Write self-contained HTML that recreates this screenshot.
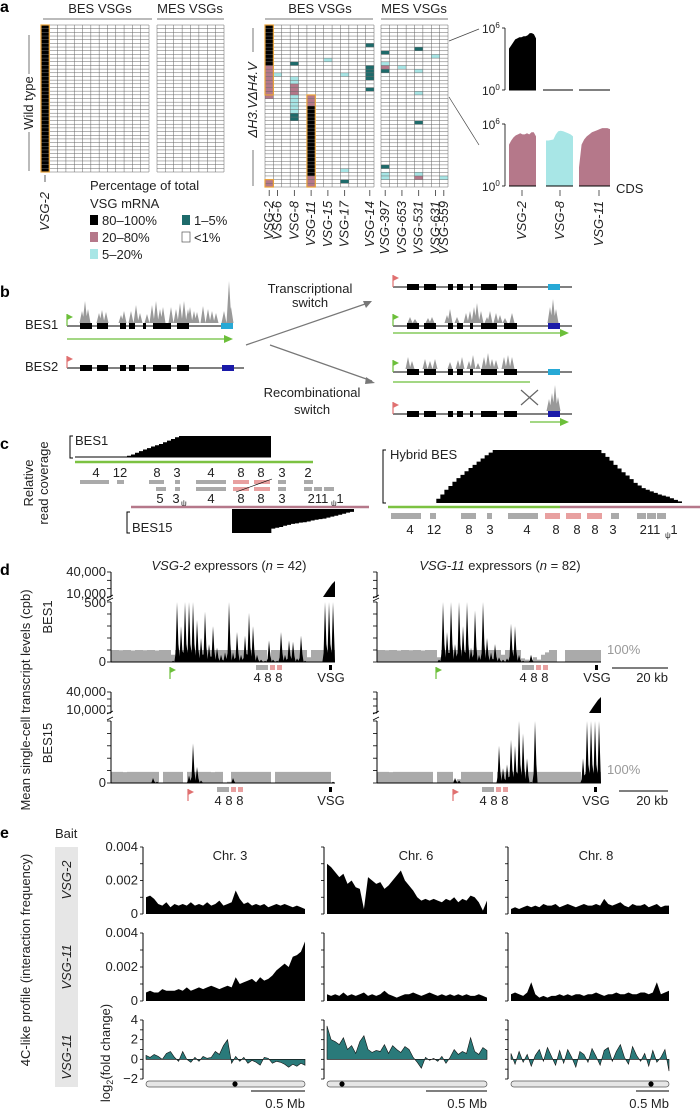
<!DOCTYPE html>
<html><head><meta charset="utf-8"><style>
html,body{margin:0;padding:0;background:#fff}
svg{display:block;font-family:"Liberation Sans",Arial,sans-serif}
</style></head><body>
<svg id="fig" width="700" height="1112" viewBox="0 0 700 1112" xmlns="http://www.w3.org/2000/svg"></svg>
<script>
// ---------- DATA ----------
const wtRows = 40, wtBesCols = 13, wtMesCols = 8;
const mutRows = 44, mutBesCols = 13, mutMesCols = 8;
const mutBesCells = [
 [0,0,'k'],[1,0,'k'],[2,0,'k'],[3,0,'k'],[4,0,'k'],[5,0,'k'],[6,0,'k'],[7,0,'k'],[8,0,'k'],[9,0,'k'],[10,0,'k'],
 [11,0,'p'],[12,0,'p'],[13,0,'p'],[14,0,'p'],[15,0,'p'],[16,0,'p'],[17,0,'p'],[18,0,'p'],[19,0,'p'],[42,0,'p'],[43,0,'p'],
 [13,1,'c'],
 [10,3,'t'],[14,3,'c'],[15,3,'c'],[16,3,'p'],[17,3,'p'],[18,3,'p'],[19,3,'c'],[20,3,'c'],[21,3,'c'],[22,3,'c'],[23,3,'c'],[24,3,'t'],[25,3,'t'],
 [19,5,'p'],[20,5,'p'],[21,5,'p'],[22,5,'k'],[23,5,'k'],[24,5,'k'],[25,5,'k'],[26,5,'k'],[27,5,'k'],[28,5,'k'],[29,5,'k'],[30,5,'k'],[31,5,'k'],[32,5,'k'],[33,5,'k'],[34,5,'k'],[35,5,'k'],[36,5,'k'],[37,5,'k'],[38,5,'k'],[39,5,'k'],[40,5,'k'],[41,5,'p'],[42,5,'p'],[43,5,'p'],
 [9,7,'c'],[13,9,'c'],[39,9,'c'],[42,9,'t'],
 [5,12,'t'],[11,12,'t'],[12,12,'t'],[13,12,'t'],[14,12,'t'],[17,12,'t']
];
const mutMesCells = [
 [7,0,'t'],[10,0,'c'],[11,0,'p'],[12,0,'t'],[38,0,'t'],[40,0,'c'],[41,0,'c'],
 [11,2,'c'],
 [6,4,'t'],[12,4,'c'],[18,4,'c'],[26,4,'t'],[40,4,'c'],[41,4,'p'],
 [8,6,'c'],[41,7,'c']
];
const besLabels = ['VSG-2','VSG-6','VSG-8','VSG-11','VSG-15','VSG-17','VSG-14'];
const besLabelCols = [0,1,3,5,7,9,12];
const mesLabels = ['VSG-397','VSG-653','VSG-531','VSG-631','VSG-559'];
const mesLabelCols = [0,2,4,6,7];
const covWtVsg2 = [4.0,4.3,4.6,4.9,5.0,5.1,5.1,5.2,5.2,5.3,5.5,5.5,5.4,5.0];
const covMutVsg2 = [4.0,4.4,4.7,4.9,5.0,5.1,5.0,5.0,5.1,5.0,5.2,5.2,4.8];
const covMutVsg8 = [4.4,4.4,4.45,4.5,5.0,5.3,5.35,5.3,5.2,5.1,5.0,4.8];
const covMutVsg11 = [1.8,4.0,4.5,4.8,5.0,5.2,5.3,5.4,5.5,5.6,5.6,5.6,5.5];
const bes1Cov = [0,0,0,0,0,0,0,0,0,0,0,0,0,0.06,0.12,0.2,0.28,0.36,0.42,0.5,0.56,0.62,0.7,0.78,0.86,0.94,1,1,1,1,1,1,1,1,1,1,1,1,1,1,1,1,1,1,1,1,1,1,1];
const bes15Cov = [1,1,1,1,1,1,1,1,1,1,0.82,0.78,0.75,0.7,0.66,0.62,0.6,0.57,0.55,0.52,0.48,0.45,0.42,0.4,0.36,0.32,0.28,0.24,0.2,0.15,0.12];
const hybridCov = [0,0,0,0,0,0,0,0,0,0,0,0,0.08,0.16,0.25,0.32,0.4,0.47,0.53,0.6,0.66,0.72,0.78,0.84,0.9,0.95,1,1,1,1,1,1,1,1,1,1,1,1,1,1,1,1,1,1,1,1,1,1,1,1,1,1,1,0.94,0.87,0.8,0.72,0.65,0.58,0.52,0.45,0.38,0.33,0.28,0.25,0.22,0.19,0.16,0.14,0.12,0.09,0.06,0.03,0];
const d1 = [0,0,0,0,0,0,0,0,0,0,0,0,0,0,0,10,500,300,500,500,500,350,200,420,150,300,120,60,80,500,80,250,60,220,410,300,60,20,10,180,20,10,250,60,180,170,30,220,10,0,0,0,0,500,500,500];
const d2 = [0,0,0,0,0,0,0,0,0,0,0,0,0,0,0,20,500,250,500,150,500,300,500,120,430,60,500,200,80,150,40,20,30,320,300,60,10,0,60,0,0,0,0,0,0,0,0,0,0,0,0,0,0,0,0,0];
const d3 = [0,0,0,0,0,0,0,0,0,0,40,10,0,0,0,0,0,0,0,60,320,130,20,0,0,0,0,0,0,0,40,0,0,0,0,0,0,0,0,0,0,0,0,0,0,0,0,0,0,0,0,0,0,0,0,10];
const d4 = [0,0,0,0,0,0,0,0,0,0,0,0,0,0,0,0,0,0,0,40,20,0,0,0,0,0,0,0,0,0,300,120,150,350,300,500,400,200,10,500,0,0,0,0,0,0,0,0,0,0,0,200,500,500,500,500];
const g1 = [100,100,98,100,100,96,100,100,98,100,100,96,100,100,100,60,100,100,100,100,100,100,100,100,100,100,100,100,100,100,100,100,100,100,100,100,100,100,100,20,100,100,100,100,100,100,100,100,100,40,100,100,100,100,100,100];
const g2 = [100,100,98,100,100,96,100,100,98,100,100,96,100,100,100,40,100,100,100,100,100,100,100,100,100,100,100,100,100,100,100,60,100,100,100,100,30,20,10,40,20,60,80,100,100,0,0,100,100,100,100,100,100,100,100,100];
const g3 = [90,90,90,88,90,90,90,90,90,90,90,90,0,90,90,90,90,90,0,90,90,90,90,90,90,88,90,90,0,10,90,90,90,90,90,90,90,90,90,90,0,90,90,90,90,90,90,90,90,90,90,90,90,90,90,0];
const g4 = [90,90,90,88,90,90,90,90,90,90,90,90,90,90,0,90,90,90,90,20,30,90,90,90,90,90,90,90,90,0,90,90,90,90,90,90,90,90,90,90,90,90,90,90,90,90,90,90,90,90,90,0,90,90,90,90];
const eFreqVsg2Chr3 = [10,11,9,6,5,7,4,6,5,6,5,7,5,6,5,7,5,6,8,5,6,7,14,9,6,7,5,6,5,6,4,5,6,5,6,5,4,5,4,3];
const eFreqVsg2Chr6 = [30,28,25,22,24,18,20,16,15,3,22,20,18,19,15,17,20,23,26,20,17,14,10,8,9,8,9,8,7,9,8,10,7,9,8,11,10,7,2,8];
const eFreqVsg2Chr8 = [3,4,3,4,5,4,5,4,6,5,5,6,4,5,6,5,4,5,6,5,5,6,5,9,6,5,6,7,5,4,6,5,5,6,4,5,6,4,5,5];
const eFreqVsg11Chr3 = [5,6,5,5,7,6,6,6,7,6,8,6,7,8,7,8,9,8,7,8,9,8,14,10,11,12,13,11,14,12,13,15,18,20,22,20,26,27,29,35];
const eFreqVsg11Chr6 = [4,3,4,3,5,3,4,3,4,5,3,4,3,4,6,4,3,2,3,4,4,5,4,3,4,5,4,3,4,3,4,3,4,3,4,3,3,4,3,2];
const eFreqVsg11Chr8 = [4,5,4,3,5,11,4,2,3,2,3,3,4,3,4,3,4,4,3,4,4,5,4,3,4,4,5,4,4,5,4,4,5,5,4,5,11,4,5,6];
const eFcChr3 = [0.4,0.2,0.5,0.3,0,0.6,0.8,0.2,-0.2,0.8,0,-0.3,0.2,-0.2,0.3,0.1,0.2,0.8,0.5,1.4,2.0,-0.4,0.3,-0.2,0.2,-0.4,-0.1,-0.3,-0.6,0.2,0.1,-0.4,-0.2,-0.3,-0.5,-0.8,-0.5,-0.7,-0.4,-0.6];
const eFcChr6 = [3.4,2.0,1.8,1.5,2.2,1.0,1.4,0.6,1.8,2.4,1.0,0.7,0.9,0.8,1.5,0.6,1.4,1.0,0.7,1.3,1.0,0.2,-0.3,-0.9,0.2,-0.1,0.1,-0.2,0.3,-0.4,0.2,1.0,0.5,0.8,0.6,2.2,0.8,0.5,1.2,0.9];
const eFcChr8 = [0.6,-0.5,0.8,-0.3,0.5,-0.7,0.4,1.0,-0.2,1.2,0.3,-0.6,0.9,-0.4,1.0,0.2,-0.8,0.8,0.5,-0.3,1.1,0.3,-0.6,0.9,1.2,-0.2,0.8,1.5,0.2,-0.5,1.3,0.4,-0.2,0.6,-0.7,0.9,-0.3,0.2,1.0,-1.2];
const eTicksFreq = ['0.004','0.002','0'];
const eTicksFc = ['4','2','0','−2'];

// ---------- HELPERS ----------
const NS='http://www.w3.org/2000/svg';
const svg=document.getElementById('fig');
function el(tag,attrs,parent,text){const e=document.createElementNS(NS,tag);for(const k in attrs)e.setAttribute(k,attrs[k]);if(text!==undefined)e.textContent=text;(parent||svg).appendChild(e);return e;}
function grp(name){const g=el('g',{});return g;}
function txt(p,x,y,s,size,opt){opt=opt||{};const a={x:x,y:y,'font-size':size||11,fill:opt.fill||'#222'};if(opt.anchor)a['text-anchor']=opt.anchor;if(opt.weight)a['font-weight']=opt.weight;if(opt.style)a['font-style']=opt.style;if(opt.rot!==undefined)a.transform='rotate('+opt.rot+' '+x+' '+y+')';return el('text',a,p,s);}
function line(p,x1,y1,x2,y2,c,w){return el('line',{x1:x1,y1:y1,x2:x2,y2:y2,stroke:c||'#000','stroke-width':w||1},p);}
function rect(p,x,y,w,h,f,extra){const a={x:x,y:y,width:w,height:h,fill:f};if(extra)for(const k in extra)a[k]=extra[k];return el('rect',a,p);}
function scale(d0,d1,r0,r1){return v=>r0+(v-d0)/(d1-d0)*(r1-r0);}
function area(p,vals,xs,ys,base,fill,stroke){let d='M'+xs(0)+','+ys(base);vals.forEach((v,i)=>{d+=' L'+xs(i).toFixed(2)+','+ys(v).toFixed(2);});d+=' L'+xs(vals.length-1)+','+ys(base)+' Z';const a={d:d,fill:fill};if(stroke){a.stroke=stroke;a['stroke-width']=0.6;}return el('path',a,p);}
function spikeArea(p,vals,xs,ys,fill){let d='M'+xs(0)+','+ys(0);vals.forEach((v,i)=>{d+=' L'+xs(i+0.15).toFixed(2)+','+ys(v*0.15).toFixed(2)+' L'+xs(i+0.5).toFixed(2)+','+ys(v).toFixed(2)+' L'+xs(i+0.85).toFixed(2)+','+ys(v*0.3).toFixed(2);});d+=' L'+xs(vals.length)+','+ys(0)+' Z';return el('path',{d:d,fill:fill},p);}
function stepArea(p,vals,xs,ys,base,fill){let d='M'+xs(0)+','+ys(base);vals.forEach((v,i)=>{d+=' L'+xs(i).toFixed(2)+','+ys(v).toFixed(2)+' L'+xs(i+1).toFixed(2)+','+ys(v).toFixed(2);});d+=' L'+xs(vals.length)+','+ys(base)+' Z';return el('path',{d:d,fill:fill},p);}
function flag(p,x,y,c){line(p,x,y,x,y-12,c,1.2);el('path',{d:'M'+x+','+(y-12)+' L'+(x+6)+','+(y-9)+' L'+x+','+(y-6)+' Z',fill:c},p);}
const lvl={k:'#000',p:'#b5788a',c:'#a8e6e6',t:'#1d6b6b'};

// ---------- PANEL A ----------
const gA=grp('panel-a');
txt(gA,0,12,'a',16,{weight:'bold',fill:'#000'});
function grid(p,x0,y0,cols,rows,cw,rh,cells,name){
  const g=el('g',{},p);
  cells.forEach(c=>{const r=rect(g,x0+c[1]*cw,y0+c[0]*rh,cw,rh,lvl[c[2]]);});
  for(let i=0;i<=cols;i++)line(g,x0+i*cw,y0,x0+i*cw,y0+rows*rh,'#666',0.5);
  for(let j=0;j<=rows;j++)line(g,x0,y0+j*rh,x0+cols*cw,y0+j*rh,'#666',0.5);
  return g;
}
const wtCells=[];for(let r=0;r<wtRows;r++)wtCells.push([r,0,'k']);
const wcw=108/wtBesCols, wrh=147/wtRows;
grid(gA,41,25,wtBesCols,wtRows,wcw,wrh,wtCells,'wt-bes-grid');
rect(gA,41,25,wcw,147,'none',{stroke:'#e8a23a','stroke-width':1.2});
grid(gA,157,25,wtMesCols,wtRows,67/wtMesCols,wrh,[],'wt-mes-grid');
txt(gA,100,13,'BES VSGs',13,{anchor:'middle'});txt(gA,190,13,'MES VSGs',13,{anchor:'middle'});
line(gA,43,19,152,19,'#777',1);line(gA,157,19,224,19,'#777',1);
txt(gA,33,103,'Wild type',13,{anchor:'middle',rot:-90});
line(gA,29,35,29,74,'#555',0.8);line(gA,29,132,29,171,'#555',0.8);
line(gA,45,175,45,182,'#333',0.8);
txt(gA,49,231,'VSG-2',13,{rot:-90,style:'italic'});
const mcw=109/mutBesCols, mrh=162/mutRows;
grid(gA,265,25,mutBesCols,mutRows,mcw,mrh,mutBesCells,'mutant-bes-grid');
grid(gA,381,25,mutMesCols,mutRows,67/mutMesCols,mrh,mutMesCells,'mutant-mes-grid');
rect(gA,265,25,mcw,19*mrh,'none',{stroke:'#e8a23a','stroke-width':1.2});
rect(gA,265,25+42*mrh,mcw,2*mrh,'none',{stroke:'#e8a23a','stroke-width':1.2});
rect(gA,265+5*mcw,25+19*mrh,mcw,25*mrh,'none',{stroke:'#e8a23a','stroke-width':1.2});
txt(gA,320,13,'BES VSGs',13,{anchor:'middle'});txt(gA,414,13,'MES VSGs',13,{anchor:'middle'});
line(gA,265,19,373,19,'#777',1);line(gA,381,19,448,19,'#777',1);
txt(gA,257,100,'ΔH3.VΔH4.V',13,{anchor:'middle',rot:-90,style:'italic'});
line(gA,253,28,253,52,'#555',0.8);line(gA,253,150,253,186,'#555',0.8);
besLabels.forEach((s,i)=>{const x=265+(besLabelCols[i]+0.5)*mcw;line(gA,x,190,x,196,'#333',0.8);txt(gA,x+4,201,s,13,{rot:-90,anchor:'end',style:'italic'});});
mesLabels.forEach((s,i)=>{const x=381+(mesLabelCols[i]+0.5)*67/mutMesCols;line(gA,x,190,x,196,'#333',0.8);txt(gA,x+4,201,s,13,{rot:-90,anchor:'end',style:'italic'});});
const gL=grp('legend');
txt(gL,90,190,'Percentage of total',13);txt(gL,90,208,'VSG mRNA',13);
[['k','80–100%',90,225],['p','20–80%',90,242],['c','5–20%',90,259],['t','1–5%',182,225],['w','<1%',182,242]].forEach(e=>{
  const g=el('g',{},gL);
  rect(g,e[2],e[3]-10,8,10,e[0]==='w'?'#fff':lvl[e[0]],{stroke:e[0]==='w'?'#555':'none','stroke-width':0.7});txt(g,e[2]+12,e[3],e[1],13);});
const gR=grp('coverage-plots');
function covPanel(yTop,yBot,series){
  const ys=scale(0,6,yBot,yTop);
  line(gR,505,yTop,505,yBot,'#000',0.8);line(gR,502,yTop,505,yTop,'#000',0.8);line(gR,502,yBot,505,yBot,'#000',0.8);
  const t1=txt(gR,482,yTop+5,'10',12);el('tspan',{dy:-5,'font-size':8},t1,'6');
  const t2=txt(gR,482,yBot+5,'10',12);el('tspan',{dy:-5,'font-size':8},t2,'0');
  series.forEach(s=>{const xs=scale(0,s[0].length-1,s[1],s[2]);if(s[0].length){const a=area(gR,s[0],xs,ys,0,s[3]);}line(gR,s[1],yBot,s[2],yBot,'#000',1);});
}
covPanel(28,90,[[covWtVsg2,509,536,'#000'],[[],543,573,'#000'],[[],579,610,'#000']]);
covPanel(124,186,[[covMutVsg2,509,536,'#b5788a'],[covMutVsg8,546,573,'#a8e6e6'],[covMutVsg11,579,610,'#b5788a']]);
txt(gR,616,193,'CDS',13);
[['VSG-2',522],['VSG-8',560],['VSG-11',599]].forEach(v=>{line(gR,v[1],190,v[1],196,'#333',0.8);txt(gR,v[1]+4,201,v[0],13,{rot:-90,anchor:'end',style:'italic'});});
line(gR,449,41,479,29,'#444',0.7);line(gR,449,97,479,145,'#444',0.7);

// ---------- PANEL B ----------
const gB=grp('panel-b');
txt(gB,0,297,'b',16,{weight:'bold',fill:'#000'});
const exonsL=[[80,92],[97,108],[120,126],[129,135],[143,146],[153,171],[177,189]];
const exonsR=[[407,419],[424,436],[448,453],[457,463],[470,473],[481,497],[504,517]];
function track(x0,x1,y,exons,vsgX,vsgC,flagC){line(gB,x0,y,x1,y,'#000',1);exons.forEach(e=>rect(gB,e[0],y-3,e[1]-e[0],6,'#000'));rect(gB,vsgX,y-3,12,6,vsgC);flag(gB,x0,y,flagC);}
function peaks(xs,y){let d='';xs.forEach(p=>{d+='M'+(p[0]-2.5)+','+y+' L'+p[0]+','+(y-p[1])+' L'+(p[0]+2.5)+','+y+' Z ';});el('path',{d:d,fill:'#999'},gB);}
track(67,233,326,exonsL,221,'#27a9d6','#6cbf3a');
peaks([[82,12],[85,22],[88,14],[99,10],[102,13],[106,11],[121,8],[124,12],[131,12],[136,18],[140,10],[147,9],[152,18],[156,22],[160,14],[163,16],[171,16],[176,14],[180,20],[184,22],[188,14],[190,16],[194,12],[197,11],[203,17],[208,14],[212,12],[216,10],[224,12],[229,42],[231,16]],323);
txt(gB,25,329,'BES1',13);
el('path',{d:'M67,339 L226,339',stroke:'#6cbf3a','stroke-width':1.3},gB);el('path',{d:'M224,335 L233,339 L224,343 Z',fill:'#6cbf3a'},gB);
track(67,244,368,exonsL,222,'#1a1aa8','#e07070');
txt(gB,25,371,'BES2',13);
el('path',{d:'M246,345 L368,303',stroke:'#777','stroke-width':1.2,fill:'none'},gB);el('path',{d:'M372,301 L363,301 L366,308 Z',fill:'#777'},gB);
el('path',{d:'M270,345 L372,381',stroke:'#777','stroke-width':1.2,fill:'none'},gB);el('path',{d:'M375,383 L366,377 L365,384 Z',fill:'#777'},gB);
txt(gB,310,293,'Transcriptional',13,{anchor:'middle'});txt(gB,310,307,'switch',13,{anchor:'middle'});
txt(gB,312,397,'Recombinational',13,{anchor:'middle'});txt(gB,312,414,'switch',13,{anchor:'middle'});
track(393,572,287,exonsR,548,'#27a9d6','#e07070');
track(393,572,326,exonsR,548,'#1a1aa8','#6cbf3a');
peaks([[410,6],[415,4],[428,5],[432,6],[447,8],[450,14],[457,6],[466,10],[470,12],[474,16],[477,20],[481,12],[487,6],[490,12],[496,10],[500,8],[505,5],[512,10],[550,16],[553,24],[556,14]],323);
el('path',{d:'M393,333 L562,333',stroke:'#6cbf3a','stroke-width':1.3},gB);el('path',{d:'M560,329 L569,333 L560,337 Z',fill:'#6cbf3a'},gB);
track(393,572,372,exonsR,548,'#27a9d6','#6cbf3a');
peaks([[408,12],[412,8],[425,10],[430,8],[435,10],[450,7],[458,9],[462,12],[469,8],[473,14],[478,6],[484,12],[488,16],[492,10],[496,9],[504,12],[508,14],[512,12]],369);
line(gB,393,382,530,382,'#6cbf3a',1.3);
track(393,572,414,exonsR,548,'#1a1aa8','#e07070');
peaks([[549,12],[552,18],[555,26],[558,14]],411);
line(gB,521,390,538,405,'#666',1.2);line(gB,538,390,521,405,'#666',1.2);
el('path',{d:'M530,422 L562,422',stroke:'#6cbf3a','stroke-width':1.3},gB);el('path',{d:'M560,418 L569,422 L560,426 Z',fill:'#6cbf3a'},gB);

// ---------- PANEL C ----------
const gC=grp('panel-c');
txt(gC,0,449,'c',16,{weight:'bold',fill:'#000'});
txt(gC,33,483,'Relative',13,{anchor:'middle',rot:-90});txt(gC,48,483,'read coverage',13,{anchor:'middle',rot:-90});
const xB1=scale(0,bes1Cov.length,75,271), yB1=scale(0,1,457,436);
stepArea(gC,bes1Cov,xB1,yB1,0,'#000');line(gC,75,457,271,457,'#000',1);
el('path',{d:'M73,436 L70,436 L70,458 L73,458',stroke:'#000',fill:'none'},gC);txt(gC,75,445,'BES1',13);
line(gC,75,462,313,462,'#7cc242',2.5);
[['4',96],['12',120],['8',157],['3',177],['4',211],['8',241],['8',261],['3',282],['2',308]].forEach(n=>txt(gC,n[1],477,n[0],13,{anchor:'middle'}));
[[80,109,'#aaa'],[117,124,'#aaa'],[149,164,'#aaa'],[175,180,'#aaa'],[196,226,'#aaa'],[233,249,'#e8a0a0'],[254,270,'#e8a0a0'],[278,286,'#aaa'],[304,313,'#aaa']].forEach(b=>rect(gC,b[0],480,b[1]-b[0],4,b[2]));
[[156,166,'#aaa'],[175,180,'#aaa'],[196,226,'#aaa'],[233,249,'#e8a0a0'],[254,270,'#e8a0a0'],[278,286,'#aaa'],[304,312,'#aaa'],[314,322,'#aaa'],[324,334,'#aaa']].forEach(b=>rect(gC,b[0],487,b[1]-b[0],4,b[2]));
line(gC,236,492,272,479,'#000',0.6);
[['5',160],['3',176],['4',211],['8',241],['8',261],['3',282],['211',318],['1',340]].forEach(n=>txt(gC,n[1],503,n[0],13,{anchor:'middle'}));
txt(gC,181,506,'ψ',8);txt(gC,331,506,'ψ',8);
line(gC,131,507,369,507,'#b5788a',2.5);
const xB15=scale(0,bes15Cov.length,232,354), yB15=scale(0,1,509,533);
stepArea(gC,bes15Cov,xB15,yB15,0,'#000');
el('path',{d:'M130,512 L127,512 L127,533 L130,533',stroke:'#000',fill:'none'},gC);txt(gC,132,532,'BES15',13);
const xH=scale(0,hybridCov.length,388,686), yH=scale(0,1,503,450);
stepArea(gC,hybridCov,xH,yH,0,'#000');
el('path',{d:'M386,450 L383,450 L383,503 L386,503',stroke:'#000',fill:'none'},gC);txt(gC,390,459,'Hybrid BES',13);
line(gC,388,507,560,507,'#7cc242',2.5);line(gC,560,507,700,507,'#b5788a',2.5);
[[391,421,'#aaa'],[430,436,'#aaa'],[461,476,'#aaa'],[487,492,'#aaa'],[508,538,'#aaa'],[545,560,'#e8a0a0'],[566,581,'#e8a0a0'],[587,602,'#e8a0a0'],[611,619,'#aaa'],[637,646,'#aaa'],[647,656,'#aaa'],[657,666,'#aaa']].forEach(b=>rect(gC,b[0],513,b[1]-b[0],6,b[2]));
[['4',410],['12',434],['8',469],['3',490],['4',527],['8',556],['8',577],['8',595],['3',613],['211',650],['1',674]].forEach(n=>txt(gC,n[1],534,n[0],13,{anchor:'middle'}));
txt(gC,665,538,'ψ',8);

// ---------- PANEL D ----------
const gD=grp('panel-d');
txt(gD,0,575,'d',16,{weight:'bold',fill:'#000'});
const tL=txt(gD,229,570,'',13,{anchor:'middle'});el('tspan',{'font-style':'italic'},tL,'VSG-2');el('tspan',{},tL,' expressors (');el('tspan',{'font-style':'italic'},tL,'n');el('tspan',{},tL,' = 42)');
const tR=txt(gD,500,570,'',13,{anchor:'middle'});el('tspan',{'font-style':'italic'},tR,'VSG-11');el('tspan',{},tR,' expressors (');el('tspan',{'font-style':'italic'},tR,'n');el('tspan',{},tR,' = 82)');
txt(gD,30,700,'Mean single-cell transcript levels (cpb)',13,{anchor:'middle',rot:-90});
txt(gD,52,617,'BES1',13,{anchor:'middle',rot:-90});txt(gD,52,743,'BES15',13,{anchor:'middle',rot:-90});
function dPanel(x0,top,zero,upTop,upBot,vals,grey,labels,topPeak){
  const g=el('g',{},gD);
  const xs=scale(0,vals.length,x0,x0+224), ys=scale(0,500,zero,top);
  stepArea(g,grey,xs,ys,0,'#aaa');
  spikeArea(g,vals,xs,ys,'#000');
  line(g,x0,zero,x0+224,zero,'#000',1);
  line(g,x0,top,x0,zero,'#000',1);
  for(let i=0;i<=5;i++){const y=ys(i*100);line(g,x0-4,y,x0,y,'#000',0.8);}
  line(g,x0,upTop,x0,upBot,'#000',1);
  for(let i=0;i<4;i++){const y=upTop+i*(upBot-upTop)/3;line(g,x0-4,y,x0,y,'#000',0.8);}
  line(g,x0-4,upBot+1,x0+2,upBot-2,'#000',0.8);line(g,x0-4,top-1,x0+2,top-4,'#000',0.8);
  if(labels){txt(g,x0-5,upTop+4,'40,000',13,{anchor:'end'});txt(g,x0-5,upBot+1,'10,000',13,{anchor:'end'});if(labels===2)txt(g,x0-5,top+5,'500',13,{anchor:'end'});txt(g,x0-5,zero+4,'0',13,{anchor:'end'});}
  if(topPeak)el('path',{d:'M'+(x0+212)+','+upBot+' L'+(x0+216)+','+(upBot-6)+' L'+(x0+221)+','+(upBot-13)+' L'+(x0+224)+','+(upBot-16)+' L'+(x0+224)+','+upBot+' Z',fill:'#000'},g);
}
dPanel(111,602,662,572,597,d1,g1,2,true);
dPanel(377,602,662,572,597,d2,g2,0,false);
dPanel(111,721,783,692,713,d3,g3,1,false);
dPanel(377,721,783,692,713,d4,g4,0,true);
function anno(yb,fx,fc,bx,vx,yl){flag(gD,fx,yb+12,fc);rect(gD,bx,yb-2,12,5,'#aaa');rect(gD,bx+14,yb-2,5,5,'#e8a0a0');rect(gD,bx+21,yb-2,5,5,'#e8a0a0');rect(gD,vx,yb-2,3,5,'#000');txt(gD,bx+12,yl,'4 8 8',13,{anchor:'middle'});txt(gD,vx+2,yl,'VSG',13,{anchor:'middle'});}
anno(667,170,'#6cbf3a',256,329,682);
anno(667,436,'#6cbf3a',522,595,682);
anno(789,188,'#e07070',217,329,805);
anno(789,453,'#e07070',482,594,805);
txt(gD,607,654,'100%',13,{fill:'#999'});txt(gD,607,774,'100%',13,{fill:'#999'});
line(gD,612,668,668,668,'#333',1.2);txt(gD,668,682,'20 kb',13,{anchor:'end'});
line(gD,619,791,668,791,'#333',1.2);txt(gD,668,805,'20 kb',13,{anchor:'end'});

// ---------- PANEL E ----------
const gE=grp('panel-e');
txt(gE,0,838,'e',16,{weight:'bold',fill:'#000'});
txt(gE,55,838,'Bait',13);
rect(gE,55,847,23,240,'#e6e6e6');
txt(gE,71,880,'VSG-2',13,{anchor:'middle',rot:-90,style:'italic'});
txt(gE,71,967,'VSG-11',13,{anchor:'middle',rot:-90,style:'italic'});
txt(gE,71,1057,'VSG-11',13,{anchor:'middle',rot:-90,style:'italic'});
txt(gE,30,960,'4C-like profile (interaction frequency)',13,{anchor:'middle',rot:-90});
const lg=txt(gE,110,1053,'log',13,{anchor:'middle',rot:-90});el('tspan',{dy:3,'font-size':9},lg,'2');el('tspan',{dy:-3},lg,'(fold change)');
const cols=[[146,305,'Chr. 3',230,235,251],[327,487,'Chr. 6',416,342,426],[511,669,'Chr. 8',596,651,636]];
const freqRows=[[eFreqVsg2Chr3,eFreqVsg2Chr6,eFreqVsg2Chr8],[eFreqVsg11Chr3,eFreqVsg11Chr6,eFreqVsg11Chr8]];
const fcRow=[eFcChr3,eFcChr6,eFcChr8];
const rowY=[[847,914],[933,1001]];
cols.forEach((c,ci)=>{
  const ax=c[0]-3;
  txt(gE,c[3],860,c[2],13,{anchor:'middle'});
  rowY.forEach((ry,ri)=>{
    const g=el('g',{},gE);
    const vals=freqRows[ri][ci];const xs=scale(0,vals.length-1,c[0],c[1]);const ys=scale(0,40,ry[1],ry[0]);
    area(g,vals,xs,ys,0,'#000');
    line(g,ax,ry[0],ax,ry[1],'#000',1);
    for(let i=0;i<=4;i++){line(g,ax-3,ys(i*10),ax,ys(i*10),'#000',0.8);}
    if(ci===0)eTicksFreq.forEach((t,i)=>txt(g,ax-5,ys(40-i*20)+4,t,13,{anchor:'end'}));
  });
  const g=el('g',{},gE);
  const vals=fcRow[ci];const xs=scale(0,vals.length-1,c[0],c[1]);const ys=scale(-2,4,1079,1020);
  area(g,vals,xs,ys,0,'#2a7a7a','#111');
  line(g,c[0],ys(0),c[1],ys(0),'#111',0.6);
  line(g,ax,1020,ax,1079,'#000',1);
  for(let i=-2;i<=4;i++)line(g,ax-3,ys(i),ax,ys(i),'#000',0.8);
  if(ci===0)eTicksFc.forEach((t,i)=>txt(g,ax-5,ys(4-i*2)+4,t,13,{anchor:'end'}));
  const cb=el('g',{},gE);
  rect(cb,c[0],1081,c[1]-c[0],6,'#e6e6e6',{rx:3,stroke:'#555','stroke-width':0.7});
  el('circle',{cx:c[4],cy:1084,r:2.6,fill:'#000'},cb);
  line(gE,c[5],1091,c[1],1091,'#555',1.5);
  txt(gE,c[1],1108,'0.5 Mb',13,{anchor:'end'});
});
</script>
</body></html>
